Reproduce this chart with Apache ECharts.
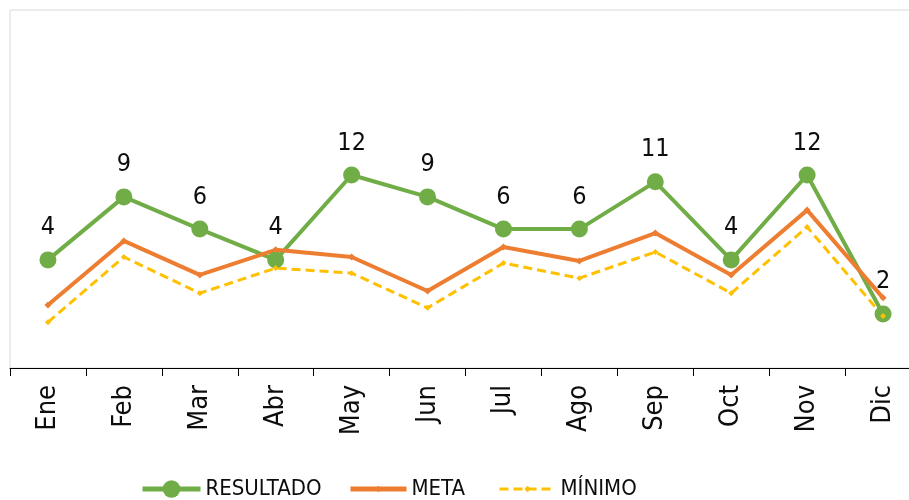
<!DOCTYPE html>
<html>
<head>
<meta charset="utf-8">
<script src="https://cdn.jsdelivr.net/npm/echarts@6/dist/echarts.min.js"></script>
<style>
  html, body { margin: 0; padding: 0; background: #fff; overflow: hidden; }
  /* the plot runs past the right edge of the window, as in the original */
  #chart { width: 922px; height: 500px; }
</style>
</head>
<body>
<div id="chart"></div>
<script>
var months = ["Ene", "Feb", "Mar", "Abr", "May", "Jun", "Jul", "Ago", "Sep", "Oct", "Nov", "Dic"];
// plotted values (axis hidden, 0-100)
var resultado = [30.2, 47.8, 38.8, 30.2, 53.9, 47.8, 38.8, 38.8, 52.0, 30.2, 53.9, 15.1];
// label shown above each RESULTADO point
var resultadoLabels = [4, 9, 6, 4, 12, 9, 6, 6, 11, 4, 12, 2];
var meta = [17.6, 35.5, 26.0, 33.0, 31.0, 21.5, 33.8, 29.9, 37.7, 26.0, 44.1, 19.6];
var minimo = [12.8, 31.0, 20.9, 27.9, 26.5, 16.8, 29.3, 25.1, 32.4, 20.9, 39.4, 14.5];

var font = '"Liberation Sans Narrow", "DejaVu Sans Condensed", "Roboto", sans-serif';
var green = "#70ad47", orange = "#ed7d31", yellow = "#ffc000";

var myChart = echarts.init(document.getElementById("chart"));
var option = {
  animation: false,
  textStyle: { fontFamily: font },
  grid: {
    left: 10,
    top: 10,
    right: 1,
    bottom: 132,
    show: true,
    borderColor: "#d9d9d9",
    borderWidth: 1
  },
  legend: [
    {
      data: [{ name: "RESULTADO", lineStyle: { width: 5 } }],
      left: 140,
      top: 478,
      padding: 0,
      itemWidth: 58,
      itemHeight: 22,
      textStyle: { fontFamily: font, fontSize: 22, color: "#0d0d0d" }
    },
    {
      data: [
        { name: "META", lineStyle: { width: 5 } },
        { name: "MÍNIMO", lineStyle: { width: 3 } }
      ],
      left: 348,
      top: 478,
      padding: 0,
      itemWidth: 56,
      itemHeight: 8,
      itemGap: 33,
      textStyle: { fontFamily: font, fontSize: 22, color: "#0d0d0d" }
    }
  ],
  xAxis: {
    type: "category",
    data: months,
    boundaryGap: true,
    axisLine: { lineStyle: { color: "#000", width: 1 } },
    axisTick: { show: true, length: 8, lineStyle: { color: "#000" } },
    axisLabel: {
      rotate: 90,
      margin: 17,
      fontSize: 27,
      fontFamily: font,
      color: "#0d0d0d"
    },
    splitLine: { show: false }
  },
  yAxis: {
    type: "value",
    min: 0,
    max: 100,
    show: false,
    splitLine: { show: false }
  },
  series: [
    {
      name: "RESULTADO",
      type: "line",
      data: resultado,
      symbol: "circle",
      symbolSize: 17,
      itemStyle: { color: green },
      lineStyle: { color: green, width: 4 },
      label: {
        show: true,
        position: "top",
        distance: 11,
        fontSize: 25,
        fontFamily: font,
        color: "#0d0d0d",
        formatter: function (p) {
          return resultadoLabels[p.dataIndex];
        }
      }
    },
    {
      name: "META",
      type: "line",
      data: meta,
      symbol: "diamond",
      symbolSize: 7,
      itemStyle: { color: orange },
      lineStyle: { color: orange, width: 4 }
    },
    {
      name: "MÍNIMO",
      type: "line",
      data: minimo,
      symbol: "diamond",
      symbolSize: 6,
      itemStyle: { color: yellow },
      lineStyle: { color: yellow, width: 3, type: [9, 5] }
    }
  ]
};
myChart.setOption(option);
</script>
</body>
</html>
